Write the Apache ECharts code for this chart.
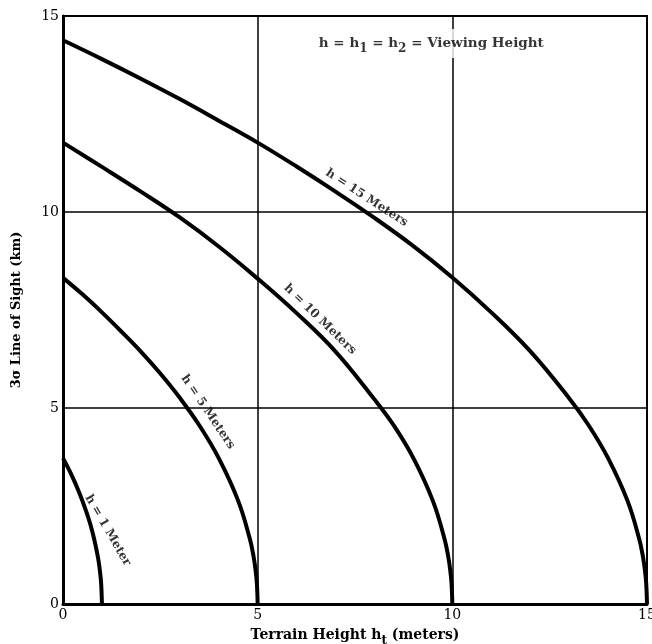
<!DOCTYPE html>
<html>
<head>
<meta charset="utf-8">
<script src="https://cdn.jsdelivr.net/npm/echarts@6/dist/echarts.min.js"></script>
<style>
  html, body { margin: 0; padding: 0; background: #fff; }
  #chart { width: 652px; height: 644px; }
</style>
</head>
<body>
<div id="chart"></div>
<script>
// Axis ticks (terrain height in metres, line of sight in km)
const xTicks = [0, 5, 10, 15];
const yTicks = [0, 5, 10, 15];

// Line-of-sight curves, [terrain height ht (m), 3σ line of sight (km)]
const h1 = [[0, 3.72], [0.2, 3.33], [0.4, 2.88], [0.6, 2.35], [0.7, 2.04], [0.8, 1.66],
  [0.9, 1.18], [0.95, 0.83], [0.98, 0.52], [1.0, 0]];
const h5 = [[0, 8.32], [0.5, 7.9], [1, 7.44], [1.5, 6.95], [2, 6.44], [2.5, 5.88], [3, 5.26],
  [3.5, 4.56], [4, 3.72], [4.5, 2.63], [4.8, 1.66], [4.9, 1.18], [4.95, 0.83], [4.98, 0.52], [5, 0]];
const h10 = [[0, 11.77], [1, 11.15], [2, 10.52], [3, 9.86], [4, 9.12], [5, 8.3], [6, 7.42],
  [7, 6.44], [8, 5.22], [8.5, 4.55], [9, 3.72], [9.5, 2.63], [9.8, 1.66], [9.9, 1.18],
  [9.95, 0.83], [9.98, 0.52], [10, 0]];
const h15 = [[0, 14.38], [1, 13.9], [2, 13.4], [3, 12.88], [4, 12.33], [5, 11.77], [6, 11.16],
  [7, 10.52], [8, 9.85], [9, 9.13], [10, 8.33], [11, 7.44], [12, 6.45], [13, 5.25],
  [13.5, 4.56], [14, 3.72], [14.5, 2.63], [14.8, 1.66], [14.9, 1.18], [14.95, 0.83],
  [14.98, 0.52], [15, 0]];

const curveNames = ['h = 1 Meter', 'h = 5 Meters', 'h = 10 Meters', 'h = 15 Meters'];
const curves = [h1, h5, h10, h15];

const SERIF = '"DejaVu Serif", "Liberation Serif", serif';

// Where each curve caption sits (data coords) and how it is tilted
const captions = [
  { at: [1.15, 1.88], rotate: -60 },
  { at: [3.72, 4.9], rotate: -56 },
  { at: [6.6, 7.26], rotate: -44 },
  { at: [7.8, 10.36], rotate: -33 }
];

const chart = echarts.init(document.getElementById('chart'), null, { renderer: 'canvas' });

const lineSeries = curves.map((pts, i) => ({
  type: 'line',
  name: curveNames[i],
  data: pts,
  showSymbol: false,
  smooth: 0.4,
  lineStyle: { color: '#000', width: 4 },
  silent: true,
  z: 3
}));

const captionSeries = captions.map((c, i) => ({
  type: 'scatter',
  data: [c.at],
  symbolSize: 0,
  silent: true,
  z: 5,
  label: {
    show: true,
    position: 'inside',
    formatter: curveNames[i],
    rotate: c.rotate,
    fontFamily: SERIF,
    fontWeight: 'bold',
    fontSize: 12,
    color: '#000'
  }
}));

const note = {
  type: 'scatter',
  data: [[9.46, 14.3]],
  symbolSize: 0,
  silent: true,
  z: 6,
  label: {
    show: true,
    position: 'inside',
    formatter: 'h = h{s|1} = h{s|2} = Viewing Height',
    backgroundColor: '#fff',
    padding: [3, 4, 3, 4],
    fontFamily: SERIF,
    fontWeight: 'bold',
    fontSize: 13.5,
    color: '#000',
    rich: {
      s: { fontFamily: SERIF, fontWeight: 'bold', fontSize: 12, color: '#000', padding: [11, 0, 0, 0] }
    }
  }
};

chart.setOption({
  animation: false,
  backgroundColor: '#fff',
  grid: {
    left: 63, right: 5, top: 16, bottom: 40,
    outerBoundsMode: 'none',
    containLabel: false,
    show: true, borderColor: '#000', borderWidth: 2, backgroundColor: 'transparent'
  },
  xAxis: {
    type: 'value',
    min: xTicks[0], max: xTicks[xTicks.length - 1], interval: 5,
    name: 'Terrain Height h{s|t} (meters)',
    nameLocation: 'middle',
    nameGap: 19,
    nameTextStyle: {
      fontFamily: SERIF, fontWeight: 'bold', fontSize: 14, color: '#000', verticalAlign: 'top',
      rich: { s: { fontFamily: SERIF, fontWeight: 'bold', fontSize: 12, color: '#000', padding: [12, 0, 0, 0] } }
    },
    axisLine: { show: true, lineStyle: { color: '#000', width: 3 } },
    axisTick: { show: false },
    axisLabel: { fontFamily: SERIF, fontSize: 14, color: '#000', margin: 4 },
    splitLine: { show: true, lineStyle: { color: '#000', width: 1.5 } }
  },
  yAxis: {
    type: 'value',
    min: yTicks[0], max: yTicks[yTicks.length - 1], interval: 5,
    name: '3σ Line of Sight (km)',
    nameLocation: 'middle',
    nameGap: 40,
    nameTextStyle: { fontFamily: SERIF, fontWeight: 'bold', fontSize: 13, color: '#000' },
    axisLine: { show: true, lineStyle: { color: '#000', width: 3 } },
    axisTick: { show: false },
    axisLabel: { fontFamily: SERIF, fontSize: 14, color: '#000', margin: 4 },
    splitLine: { show: true, lineStyle: { color: '#000', width: 1.5 } }
  },
  series: [...lineSeries, ...captionSeries, note]
});
</script>
</body>
</html>
